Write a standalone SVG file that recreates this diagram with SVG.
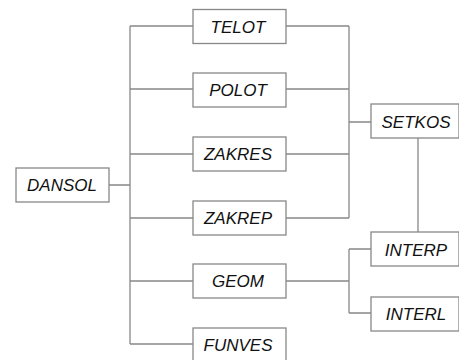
<svg xmlns="http://www.w3.org/2000/svg" width="459" height="360" viewBox="0 0 459 360">
<style>
.box rect{fill:#fff;stroke:#888;stroke-width:1.3}
.box text{font-family:"Liberation Sans",Arial,sans-serif;font-style:italic;font-size:17px;fill:#111;text-anchor:middle}
#connectors path{fill:none;stroke:#888;stroke-width:1.3}
</style>
<rect width="459" height="360" fill="#fff"/>
<g id="connectors">
<path d="M109,185H130M130,26V344M130,26H193M130,89H193M130,154H193M130,218H193M130,281H193M130,344H193"/>
<path d="M286,26H349M286,89H349M286,154H349M286,218H349M349,26V218M349,122H371"/>
<path d="M418,138V232"/>
<path d="M286,281H349M349,249V313M349,249H371M349,313H371"/>
</g>
<g id="DANSOL" class="box"><rect x="16" y="168" width="93" height="34"/><text x="62" y="191">DANSOL</text></g>
<g id="TELOT" class="box"><rect x="193" y="9.5" width="93" height="34"/><text x="238" y="32.5">TELOT</text></g>
<g id="POLOT" class="box"><rect x="193" y="73" width="93" height="34"/><text x="238" y="96">POLOT</text></g>
<g id="ZAKRES" class="box"><rect x="193" y="137" width="93" height="34"/><text x="238" y="160">ZAKRES</text></g>
<g id="ZAKREP" class="box"><rect x="193" y="201" width="93" height="34"/><text x="238" y="224">ZAKREP</text></g>
<g id="GEOM" class="box"><rect x="193" y="264" width="93" height="34"/><text x="238" y="287">GEOM</text></g>
<g id="FUNVES" class="box"><rect x="193" y="328" width="93" height="34"/><text x="238" y="351">FUNVES</text></g>
<g id="SETKOS" class="box"><rect x="371" y="104" width="88" height="34"/><text x="416" y="128">SETKOS</text></g>
<g id="INTERP" class="box"><rect x="371" y="232" width="88" height="34"/><text x="416" y="256">INTERP</text></g>
<g id="INTERL" class="box"><rect x="371" y="297" width="88" height="34"/><text x="416" y="320">INTERL</text></g>
</svg>
